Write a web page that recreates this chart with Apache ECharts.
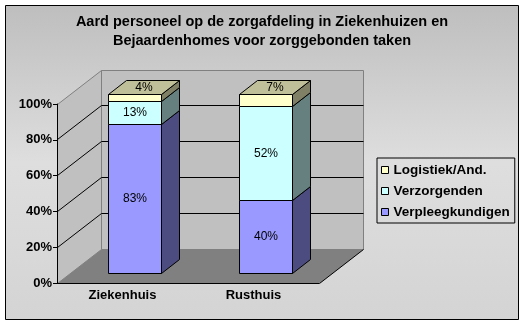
<!DOCTYPE html>
<html><head><meta charset="utf-8">
<script src="https://cdn.jsdelivr.net/npm/echarts@6/dist/echarts.min.js"></script>
<style>html,body{margin:0;padding:0;background:#fff}#c{width:524px;height:325px}</style>
</head><body><div id="c"></div>
<script>
// ---- data ----
const categories = ['Ziekenhuis', 'Rusthuis'];
const verpleegkundigen = [83, 40];
const verzorgenden = [13, 52];
const logistiek = [4, 7];
const yTicks = [0, 20, 40, 60, 80, 100];
const seriesNames = ['Verpleegkundigen', 'Verzorgenden', 'Logistiek/And.'];
const seriesValues = [verpleegkundigen, verzorgenden, logistiek];

// ---- style ----
const frontColors = ['#9999FF', '#CCFFFF', '#FFFFCC'];
const sideColors = ['#4C4C80', '#668080', '#808066'];
const topColors = ['#7373BF', '#99BFBF', '#BFBF99'];
const DX = 44, DY = -34, T0 = 0.29, T1 = 0.71, BW = 0.405;
const FONT = "'Liberation Sans', Arial, sans-serif";
const px = v => Math.round(v - 0.5) + 0.5;

const totals = categories.map((_, i) => seriesValues.reduce((s, arr) => s + arr[i], 0));
const stackData = seriesValues.map((arr, si) => arr.map((v, i) => {
  let base = 0;
  for (let k = 0; k < si; k++) base += seriesValues[k][i];
  return [i, base / totals[i] * 100, (base + v) / totals[i] * 100, v, si === seriesValues.length - 1 ? 1 : 0];
}));

function renderWalls(params, api) {
  const band = api.size([1, 0])[0];
  const n = categories.length;
  const x0 = px(api.coord([0, 0])[0] - band / 2);
  const x1 = px(api.coord([n - 1, 0])[0] + band / 2);
  const y0 = px(api.coord([0, yTicks[0]])[1]);
  const yt = px(api.coord([0, yTicks[yTicks.length - 1]])[1]);
  const ch = [];
  ch.push({type: 'polygon', shape: {points: [[x0 + DX, yt + DY], [x1 + DX, yt + DY], [x1 + DX, y0 + DY], [x0 + DX, y0 + DY]]},
    style: {fill: '#C0C0C0', stroke: '#808080', lineWidth: 1}});
  ch.push({type: 'polygon', shape: {points: [[x0, yt], [x0 + DX, yt + DY], [x0 + DX, y0 + DY], [x0, y0]]},
    style: {fill: '#C0C0C0', stroke: '#808080', lineWidth: 1}});
  ch.push({type: 'polygon', shape: {points: [[x0, y0], [x1, y0], [x1 + DX, y0 + DY], [x0 + DX, y0 + DY]]},
    style: {fill: '#808080'}});
  ch.push({type: 'line', shape: {x1: x1, y1: y0, x2: x1 + DX, y2: y0 + DY}, style: {stroke: '#000', lineWidth: 1}});
  yTicks.slice(1, -1).forEach(v => {
    const y = px(api.coord([0, v])[1]);
    ch.push({type: 'polyline', shape: {points: [[x0, y], [x0 + DX, y + DY], [x1 + DX, y + DY]]},
      style: {stroke: '#000', lineWidth: 1, fill: null}});
  });
  return {type: 'group', children: ch};
}

function renderBar(si) {
  return function (params, api) {
    const cat = api.value(0), lo = api.value(1), hi = api.value(2), raw = api.value(3), isTop = api.value(4);
    const band = api.size([1, 0])[0];
    const w = band * BW;
    const pLo = api.coord([cat, lo]), pHi = api.coord([cat, hi]);
    const xl = px(pLo[0] - w / 2 + DX * T0), xr = px(pLo[0] + w / 2 + DX * T0);
    const yb = px(pLo[1] + DY * T0), yt = px(pHi[1] + DY * T0);
    const dx = Math.round(DX * (T1 - T0)), dy = Math.round(DY * (T1 - T0));
    const st = {stroke: '#000', lineWidth: 1};
    const ch = [
      {type: 'polygon', shape: {points: [[xl, yt], [xr, yt], [xr, yb], [xl, yb]]}, style: Object.assign({fill: frontColors[si]}, st)},
      {type: 'polygon', shape: {points: [[xr, yt], [xr + dx, yt + dy], [xr + dx, yb + dy], [xr, yb]]}, style: Object.assign({fill: sideColors[si]}, st)}
    ];
    let lx = (xl + xr) / 2, ly = (yt + yb) / 2;
    if (isTop) {
      ch.push({type: 'polygon', shape: {points: [[xl, yt], [xl + dx, yt + dy], [xr + dx, yt + dy], [xr, yt]]}, style: Object.assign({fill: topColors[si]}, st)});
      lx = (xl + xr + dx) / 2; ly = yt + dy / 2;
    }
    ch.push({type: 'text', x: lx, y: ly, style: {text: raw + '%', font: '12px ' + FONT, fill: '#000', align: 'center', verticalAlign: 'middle'}});
    return {type: 'group', children: ch};
  };
}

const chart = echarts.init(document.getElementById('c'), null, {renderer: 'canvas'});
const series = [{
  type: 'custom', name: '_walls', z: 1, silent: true, renderItem: renderWalls, data: [[0, 0]]
}];
seriesNames.forEach((nm, si) => {
  series.push({
    type: 'custom', name: nm, z: 2, renderItem: renderBar(si), data: stackData[si],
    itemStyle: {color: frontColors[si], borderColor: '#000', borderWidth: 1},
    encode: {x: 0, y: [1, 2]}
  });
});

chart.setOption({
  animation: false,
  graphic: [{
    type: 'rect', z: -100, shape: {x: 5.5, y: 5.5, width: 513, height: 314},
    style: {
      fill: new echarts.graphic.LinearGradient(0, 0, 0, 1, [
        {offset: 0, color: '#BEBEBE'}, {offset: 0.5, color: '#DEDEDE'}, {offset: 1, color: '#D4D4D4'}
      ]),
      stroke: '#000', lineWidth: 1
    }
  }],
  title: {
    text: 'Aard personeel op de zorgafdeling in Ziekenhuizen en\nBejaardenhomes voor zorggebonden taken',
    left: 'center', top: 12, padding: 0,
    textStyle: {fontSize: 14.5, fontWeight: 'bold', fontFamily: FONT, lineHeight: 19, color: '#000'}
  },
  legend: {
    data: ['Logistiek/And.', 'Verzorgenden', 'Verpleegkundigen'],
    orient: 'vertical', left: 377, top: 158, padding: [5, 5, 4, 4],
    itemWidth: 7, itemHeight: 7, itemGap: 7, icon: 'rect',
    borderColor: '#000', borderWidth: 1,
    itemStyle: {borderColor: '#000', borderWidth: 1},
    textStyle: {fontSize: 13.5, fontWeight: 'bold', fontFamily: FONT, color: '#000', lineHeight: 14}
  },
  grid: {left: 57, right: 205, top: 104, bottom: 42, containLabel: false},
  xAxis: {
    type: 'category', data: categories, boundaryGap: true, z: 10,
    axisLine: {lineStyle: {color: '#000', width: 1}},
    axisTick: {length: 4, lineStyle: {color: '#000'}},
    axisLabel: {margin: 6, color: '#000', fontSize: 13, fontWeight: 'bold', fontFamily: FONT},
    splitLine: {show: false}
  },
  yAxis: {
    type: 'value', min: 0, max: 100, interval: 20, z: 10,
    axisLine: {show: true, lineStyle: {color: '#000', width: 1}},
    axisTick: {show: true, length: 4, lineStyle: {color: '#000'}},
    axisLabel: {margin: 5, formatter: '{value}%', color: '#000', fontSize: 13, fontWeight: 'bold', fontFamily: FONT},
    splitLine: {show: false}
  },
  series: series
});
</script></body></html>
